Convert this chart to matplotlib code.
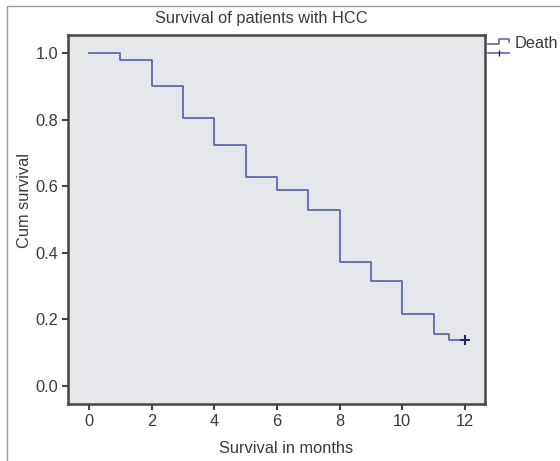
import matplotlib
matplotlib.use("Agg")
import matplotlib.pyplot as plt
from matplotlib.lines import Line2D
from matplotlib.patches import Rectangle

times = [0, 1, 2, 3, 4, 5, 6, 7, 8, 9, 10, 11, 11.5, 12]
survival = [1.0, 0.980, 0.902, 0.804, 0.725, 0.627, 0.588, 0.529, 0.373, 0.314, 0.216, 0.157, 0.137, 0.137]
censor_t = [12]
censor_s = [0.137]
xticks = [0, 2, 4, 6, 8, 10, 12]
yticks = [0.0, 0.2, 0.4, 0.6, 0.8, 1.0]

plt.rcParams['font.family'] = ['Liberation Sans', 'DejaVu Sans']
FS = 11.8
TC = '#3a3a3a'

fig = plt.figure(figsize=(5.6, 4.61), dpi=100)
ax = fig.add_axes([68/560, 1-404/461, (485-68)/560, (404-35)/461])

line_c = '#5b6aab'
ax.step(times, survival, where='post', color=line_c, lw=1.3)
ax.plot(censor_t, censor_s, marker='+', color='#1f2a5a', ms=7, mew=1.5, ls='none')

ax.set_facecolor('#e6e7ea')
ax.set_xlim(-0.67, 12.64)
ax.set_ylim(-0.055, 1.055)
ax.set_xticks(xticks)
ax.set_xticklabels([str(x) for x in xticks])
ax.set_yticks(yticks)
ax.set_yticklabels([f"{y:.1f}" for y in yticks])
for s in ax.spines.values():
    s.set_color('#444444')
    s.set_linewidth(1.8)
ax.tick_params(direction='out', length=4.5, width=1.5, color='#444444',
               labelsize=FS, labelcolor=TC, pad=2.5)

fig.text(286/560, 1-448/461, 'Survival in months', ha='center', va='center', fontsize=FS, color=TC)
fig.text(25/560, 1-200/461, 'Cum survival', ha='center', va='center', rotation=90, fontsize=FS, color=TC)
fig.text(261/560, 1-18/461, 'Survival of patients with HCC', ha='center', va='center',
         fontsize=FS, color=TC)

# legend
fig.text(515/560, 1-43/461, 'Death', ha='left', va='center', fontsize=FS, color=TC)
lx0, lx1 = 488/560, 509/560
ly_hi, ly_lo = 1-39/461, 1-44/461
xs = [lx0, 499/560, 499/560, lx1, lx1]
ys = [ly_lo, ly_lo, ly_hi, ly_hi, 1-42/461]
fig.add_artist(Line2D(xs, ys, color=line_c, lw=1.2, transform=fig.transFigure))
fig.add_artist(Line2D([lx0, lx1], [1-53/461, 1-53/461], color=line_c, lw=1.2, transform=fig.transFigure))
fig.add_artist(Line2D([499/560], [1-53/461], marker='|', ms=5, color='#1f2a5a', transform=fig.transFigure))

# outer frame
fig.add_artist(Rectangle((7/560, -0.05), 1.1, 1-6/461+0.05, fill=False, edgecolor='#9a9a9a', lw=1,
                         transform=fig.transFigure))

fig.savefig('out.png', dpi=100)
